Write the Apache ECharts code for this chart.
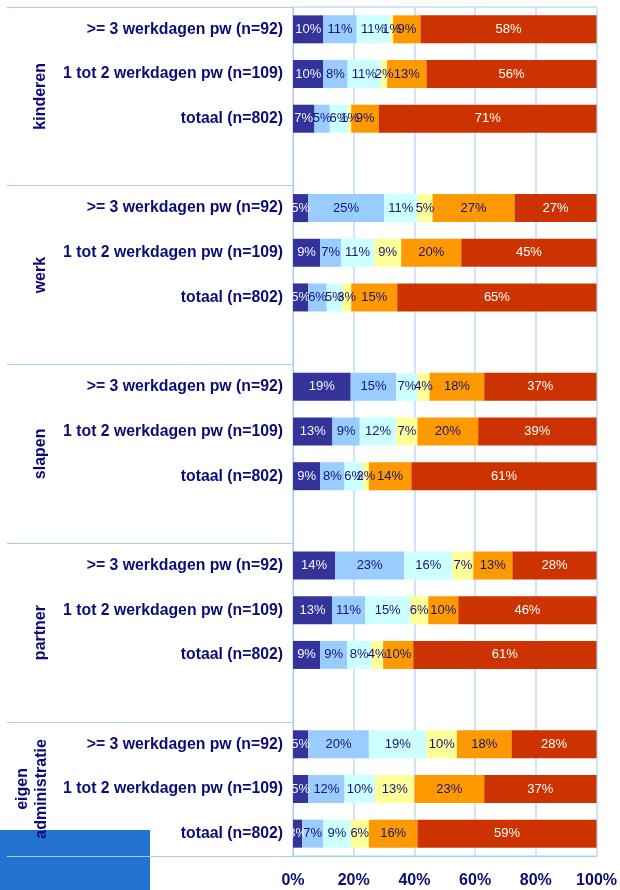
<!DOCTYPE html>
<html><head><meta charset="utf-8">
<script src="https://cdn.jsdelivr.net/npm/echarts@6/dist/echarts.min.js"></script>
<style>html,body{margin:0;padding:0;background:#fff}#c{width:620px;height:890px}</style>
</head><body><div id="c"></div>
<script>
const groups = ['kinderen', 'werk', 'slapen', 'partner', 'eigen\nadministratie'];
const rowLabels = ['>= 3 werkdagen pw (n=92)', '1 tot 2 werkdagen pw (n=109)', 'totaal (n=802)'];
const xTicks = [0, 20, 40, 60, 80, 100];

// values per row: kinderen(3), werk(3), slapen(3), partner(3), eigen administratie(3)
const s1 = [10, 10, 7,   5, 9, 5,    19, 13, 9,   14, 13, 9,   5, 5, 3];
const s2 = [11, 8, 5,    25, 7, 6,   15, 9, 8,    23, 11, 9,   20, 12, 7];
const s3 = [11, 11, 6,   11, 11, 5,  7, 12, 6,    16, 15, 8,   19, 10, 9];
const s4 = [1, 2, 1,     5, 9, 3,    4, 7, 2,     7, 6, 4,     10, 13, 6];
const s5 = [9, 13, 9,    27, 20, 15, 18, 20, 14,  13, 10, 10,  18, 23, 16];
const s6 = [58, 56, 71,  27, 45, 65, 37, 39, 61,  28, 46, 61,  28, 37, 59];

const seriesValues = [s1, s2, s3, s4, s5, s6];
const seriesColors = ['#333399', '#99ccff', '#ccffff', '#ffff99', '#ff9900', '#cc3300'];
const labelColors = ['#f4f4ff', '#14147a', '#14147a', '#14147a', '#14147a', '#ffffff'];
const navy = '#0c0c78';
const lineBlue = '#a6cdf5';

// build category slots (3 rows per group + one blank slot between groups)
const categories = [];
const rowSlot = [];
const groupRange = [];
groups.forEach((g, gi) => {
  const start = categories.length;
  rowLabels.forEach(r => { rowSlot.push(categories.length); categories.push(r); });
  if (gi < groups.length - 1) categories.push('');
  groupRange.push([start, categories.length - 1]);
});

const nRows = s1.length;
const sums = [];
for (let i = 0; i < nRows; i++) sums.push(seriesValues.reduce((a, s) => a + s[i], 0));

const series = seriesValues.map((vals, k) => {
  const data = categories.map(() => '-');
  vals.forEach((v, i) => { data[rowSlot[i]] = { value: v / sums[i] * 100, raw: v }; });
  return {
    type: 'bar', stack: 'total', name: 'reeks ' + (k + 1),
    barWidth: 28,
    itemStyle: { color: seriesColors[k] },
    label: {
      show: true, position: 'inside',
      formatter: p => p.data.raw + '%',
      color: labelColors[k], fontSize: 13, fontFamily: '"Liberation Sans", Arial, sans-serif'
    },
    data: data
  };
});

const chart = echarts.init(document.getElementById('c'));
const option = {
  animation: false,
  backgroundColor: '#ffffff',
  grid: { left: 293, right: 23, top: 7, bottom: 34, show: true, borderColor: lineBlue, borderWidth: 1 },
  xAxis: {
    type: 'value', min: xTicks[0], max: xTicks[xTicks.length - 1], interval: 20,
    axisLine: { show: true, lineStyle: { color: lineBlue } },
    axisTick: { show: false },
    splitLine: { show: true, lineStyle: { color: '#cfe4fa', width: 2 } },
    axisLabel: {
      formatter: '{value}%', margin: 17, color: navy, fontWeight: 'bold', fontSize: 16,
      fontFamily: '"Liberation Sans", Arial, sans-serif'
    }
  },
  yAxis: {
    type: 'category', inverse: true, data: categories,
    axisLine: { show: true, lineStyle: { color: lineBlue } },
    axisTick: {
      show: true, length: 286,
      interval: (i) => groupRange.some(r => r[0] === i),
      lineStyle: { color: lineBlue }
    },
    axisLabel: {
      interval: 0, margin: 10, color: navy, fontWeight: 'bold', fontSize: 15.8,
      fontFamily: '"Liberation Sans", Arial, sans-serif'
    }
  },
  series: series
};
chart.setOption(option);

const graphics = [{
  type: 'rect', z: -10, shape: { x: 0, y: 830, width: 150, height: 60 }, style: { fill: '#2272d2' }
}];
groups.forEach((g, gi) => {
  const y0 = chart.convertToPixel({ gridIndex: 0 }, [0, groupRange[gi][0]])[1];
  const y1 = chart.convertToPixel({ gridIndex: 0 }, [0, groupRange[gi][1]])[1];
  const twoLine = g.indexOf('\n') >= 0;
  graphics.push({
    type: 'text', z: 10, x: twoLine ? 32 : 41, y: (y0 + y1) / 2, rotation: Math.PI / 2,
    style: {
      text: g, fill: navy, font: 'bold 16px "Liberation Sans", Arial, sans-serif',
      align: 'center', verticalAlign: 'middle', lineHeight: 19
    }
  });
});
chart.setOption({ graphic: graphics });
</script>
</body></html>
